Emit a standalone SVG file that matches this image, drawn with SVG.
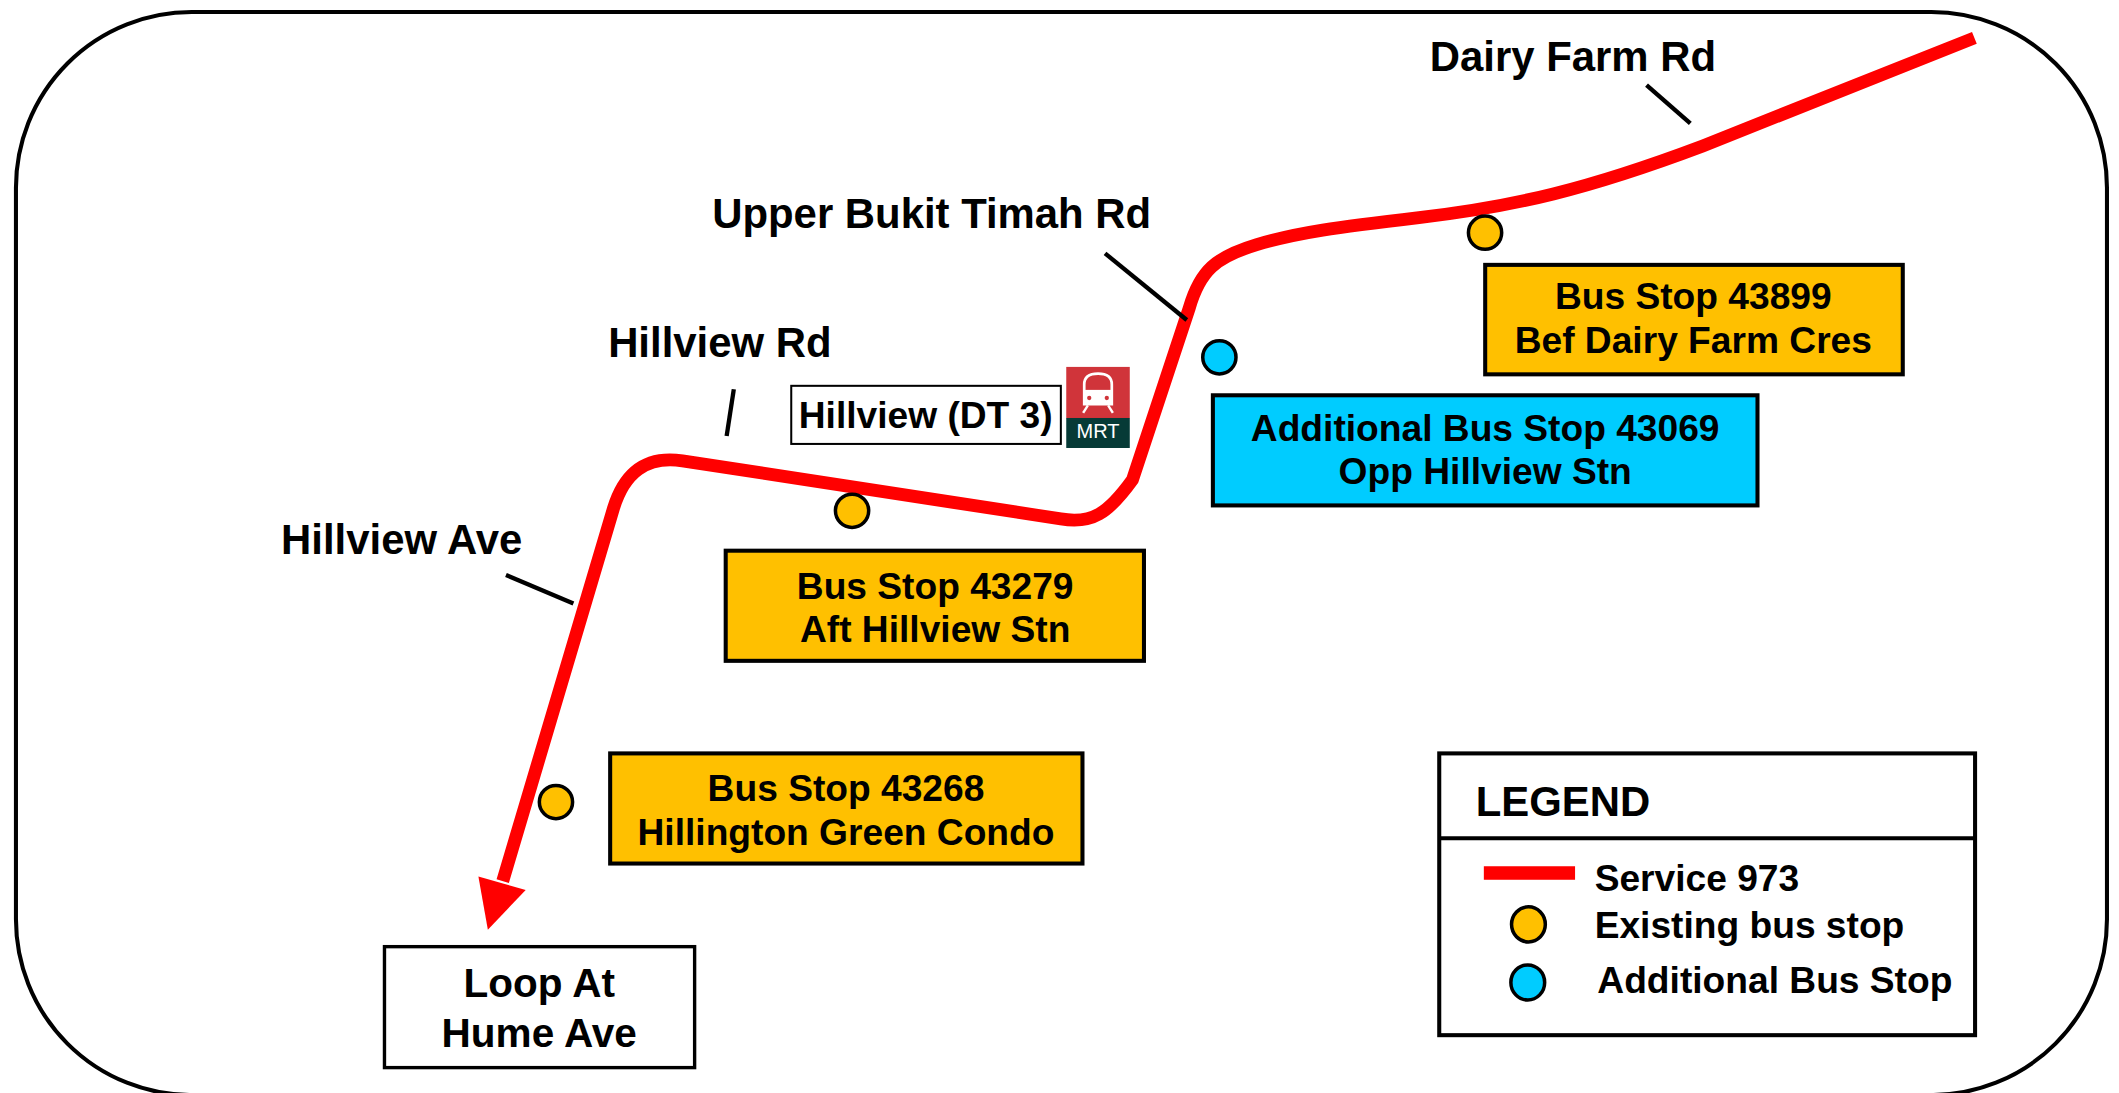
<svg xmlns="http://www.w3.org/2000/svg" width="2119" height="1093" viewBox="0 0 2119 1093">
<style>
text{font-family:"Liberation Sans",Arial,sans-serif;font-weight:bold;fill:#000}
.road{font-size:31px}
.lbl{font-size:27.5px;text-anchor:middle}
.leg{font-size:27.5px}
.stop{fill:#FFC000;stroke:#000;stroke-width:3}
.addl{fill:#00CCFF;stroke:#000;stroke-width:3}
.dot{stroke:#000;stroke-width:2.6}
.leader{stroke:#000;stroke-width:3.2;fill:none}
.route{stroke:#FF0000;stroke-width:9.5;fill:none;stroke-linejoin:round}
</style>
<rect width="2119" height="1093" fill="#fff"/>
<g transform="scale(1.3514)">
<rect id="frame" x="11.8" y="8.9" width="1547.3" height="801.4" rx="130" ry="130" fill="none" stroke="#000" stroke-width="3"/>

<g id="connectors">
<path class="route" d="M372,652 L454,376 C462,350 478,337 505,341 L785,384 C808,388 820,380 838,355 L880,228 C888,200 900,190 930,181 C960,172 990,168 1050,161 C1120,153 1175,140 1260,108 L1461,28"/>
<polygon points="354,648.5 389,658.6 361,688" fill="#FF0000"/>
<line class="leader" x1="1218.4" y1="62.9" x2="1250.8" y2="91.3"/>
<line class="leader" x1="817.7" y1="187.5" x2="878.2" y2="236.8"/>
<line class="leader" x1="543" y1="288" x2="537.7" y2="322.6"/>
<line class="leader" x1="374.4" y1="425.5" x2="424.3" y2="446.5"/>
</g>

<g id="road-labels">
<text class="road" x="1058" y="52.3">Dairy Farm Rd</text>
<text class="road" x="527" y="169">Upper Bukit Timah Rd</text>
<text class="road" x="450" y="264">Hillview Rd</text>
<text class="road" x="208" y="410">Hillview Ave</text>
</g>

<g id="stop-43279-dot"><circle class="dot" cx="630.5" cy="378" r="12.3" fill="#FFC000"/></g>
<g id="stop-43268-dot"><circle class="dot" cx="411.4" cy="593.5" r="12.3" fill="#FFC000"/></g>
<g id="stop-43899-dot"><circle class="dot" cx="1098.9" cy="172.2" r="12.3" fill="#FFC000"/></g>
<g id="stop-43069-dot"><circle class="dot" cx="902.3" cy="264.4" r="12.3" fill="#00CCFF"/></g>

<g id="box-43279">
<rect class="stop" x="537" y="407.5" width="309.5" height="81.5"/>
<text class="lbl" x="692" y="443">Bus Stop 43279</text>
<text class="lbl" x="692" y="475">Aft Hillview Stn</text>
</g>
<g id="box-43268">
<rect class="stop" x="451.5" y="557.5" width="349.5" height="81.5"/>
<text class="lbl" x="626" y="593">Bus Stop 43268</text>
<text class="lbl" x="626" y="625">Hillington Green Condo</text>
</g>
<g id="box-43899">
<rect class="stop" x="1099" y="196" width="309" height="81"/>
<text class="lbl" x="1253" y="229">Bus Stop 43899</text>
<text class="lbl" x="1253" y="261">Bef Dairy Farm Cres</text>
</g>
<g id="box-43069">
<rect class="addl" x="897.5" y="292.5" width="403" height="81.5"/>
<text class="lbl" x="1099" y="326">Additional Bus Stop 43069</text>
<text class="lbl" x="1099" y="358">Opp Hillview Stn</text>
</g>

<g id="hillview-station">
<rect x="585.5" y="285.5" width="199.5" height="43" fill="#fff" stroke="#000" stroke-width="1.5"/>
<text class="lbl" x="685" y="317">Hillview (DT 3)</text>
</g>

<g id="mrt-icon">
<rect x="789" y="271.5" width="47" height="38" fill="#D0343A"/>
<rect x="789" y="309.3" width="47" height="22.2" fill="#063A36"/>
<path d="M802.3,299 V284.5 Q802.3,276.5 812.5,276.5 Q822.7,276.5 822.7,284.5 V299 Z" fill="none" stroke="#fff" stroke-width="2"/>
<rect x="802.3" y="288.5" width="20.4" height="10.5" fill="#fff"/>
<circle cx="806" cy="294.5" r="1.6" fill="#D0343A"/>
<circle cx="819" cy="294.5" r="1.6" fill="#D0343A"/>
<line x1="805" y1="300" x2="801.5" y2="305.5" stroke="#fff" stroke-width="1.8"/>
<line x1="820" y1="300" x2="823.5" y2="305.5" stroke="#fff" stroke-width="1.8"/>
<text x="812.5" y="324.4" style="font-size:14.8px;font-weight:normal;fill:#fff;text-anchor:middle">MRT</text>
</g>

<g id="loop-hume-ave">
<rect x="284.5" y="700.5" width="229.5" height="89.5" fill="#fff" stroke="#000" stroke-width="2.5"/>
<text x="399" y="737.5" style="font-size:30px;text-anchor:middle">Loop At</text>
<text x="399" y="774.5" style="font-size:30px;text-anchor:middle">Hume Ave</text>
</g>

<g id="legend">
<rect x="1065" y="557.5" width="396.5" height="208.5" fill="#fff" stroke="#000" stroke-width="3"/>
<line x1="1065" y1="620.3" x2="1461.5" y2="620.3" stroke="#000" stroke-width="3"/>
<text x="1092" y="604" style="font-size:31px">LEGEND</text>
<rect x="1098" y="641" width="67.5" height="10" fill="#FF0000"/>
<text class="leg" x="1180" y="659">Service 973</text>
<ellipse class="dot" cx="1131" cy="684" rx="12.5" ry="13" fill="#FFC000"/>
<text class="leg" x="1180" y="694">Existing bus stop</text>
<ellipse class="dot" cx="1130.5" cy="727" rx="12.5" ry="13" fill="#00CCFF"/>
<text class="leg" x="1182" y="735">Additional Bus Stop</text>
</g>
</g>
</svg>
